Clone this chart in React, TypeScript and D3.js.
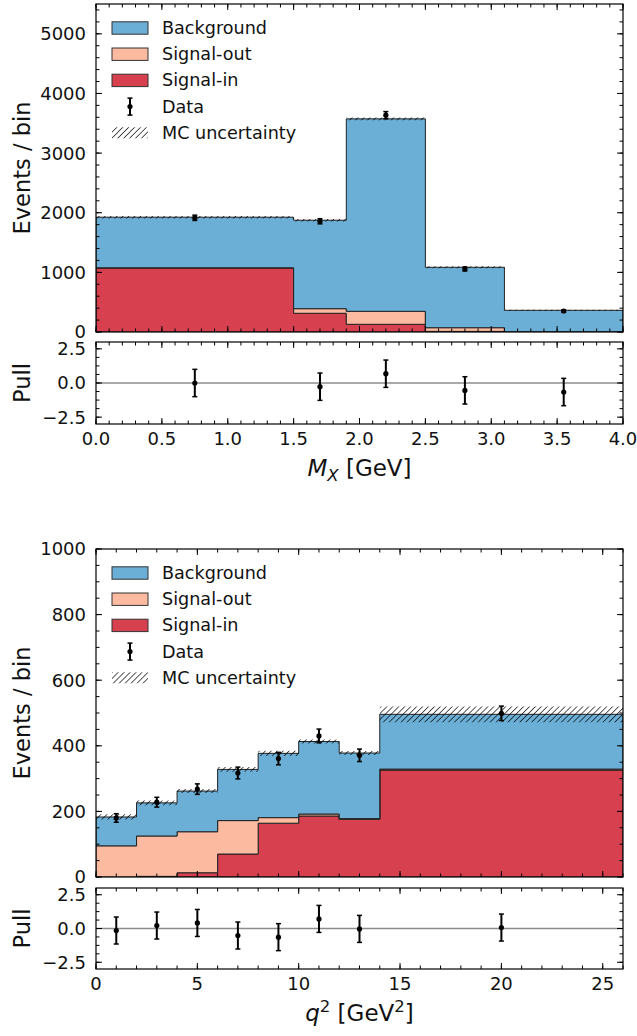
import React from 'react';
import * as d3 from 'd3';

const W = 637;
const H = 1036;
const FONT = '"DejaVu Sans", Verdana, sans-serif';

const COLOR_BKG = '#6baed6';
const COLOR_SIG_OUT = '#fcbba1';
const COLOR_SIG_IN = '#d6404f';

// ---- M_X distribution ----
const MX_EDGES = [0, 1.5, 1.9, 2.5, 3.1, 4.0];
const MX_SIGNAL_IN = [1074, 314, 129, 10, 1];
const MX_SIGNAL_OUT = [3, 77, 218, 62, 2];
const MX_BACKGROUND = [848, 1483, 3227, 1013, 361];
const MX_MC_UNC = [22, 20, 24, 16, 10];
const MX_DATA_X = [0.75, 1.7, 2.2, 2.8, 3.55];
const MX_DATA = [1915, 1857, 3636, 1057, 352];
const MX_DATA_ERR = [44, 43, 60, 33, 19];
const MX_PULL = [0.0, -0.27, 0.68, -0.54, -0.66];
const MX_PULL_ERR = [1, 1, 1, 1, 1];
const MX_Y_TICKS = [0, 1000, 2000, 3000, 4000, 5000];
const MX_X_TICKS = [0, 0.5, 1.0, 1.5, 2.0, 2.5, 3.0, 3.5, 4.0];

// ---- q^2 distribution ----
const Q2_EDGES = [0, 2, 4, 6, 8, 10, 12, 14, 26];
const Q2_SIGNAL_IN = [0, 2, 13, 70, 164, 186, 176, 326];
const Q2_SIGNAL_OUT = [95, 123, 125, 102, 17, 6, 2, 3];
const Q2_BACKGROUND = [88, 101, 124, 156, 196, 221, 200, 167];
const Q2_MC_UNC = [8, 7, 6, 7, 8, 6, 6, 24];
const Q2_DATA_X = [1, 3, 5, 7, 9, 11, 13, 20];
const Q2_DATA = [180, 228, 268, 317, 361, 430, 371, 499];
const Q2_DATA_ERR = [13, 15, 16, 18, 19, 21, 19, 22];
const Q2_PULL = [-0.15, 0.22, 0.41, -0.52, -0.64, 0.71, -0.03, 0.07];
const Q2_PULL_ERR = [1, 1, 1, 1, 1, 1, 1, 1];
const Q2_Y_TICKS = [0, 200, 400, 600, 800, 1000];
const Q2_X_TICKS = [0, 5, 10, 15, 20, 25];

const PULL_TICKS = [-2.5, 0, 2.5];

const LEGEND_ITEMS = ['Background', 'Signal-out', 'Signal-in', 'Data', 'MC uncertainty'];

const fmtMinus = (s: string) => s.replace('-', '\u2212');

type PanelCfg = {
  id: string;
  top: number;
  mainBottom: number;
  pullTop: number;
  pullBottom: number;
  xMax: number;
  yMax: number;
  edges: number[];
  sigIn: number[];
  sigOut: number[];
  bkg: number[];
  mcUnc: number[];
  dataX: number[];
  data: number[];
  dataErr: number[];
  pull: number[];
  pullErr: number[];
  yTicks: number[];
  yMinor: number;
  xTicks: number[];
  xMinor: number;
  xFmt: (v: number) => string;
  xLabel: React.ReactNode;
};

const LEFT = 96;
const RIGHT = 623;
const MAJOR = 6;
const MINOR = 3.5;
const TICK_FS = 18;
const LABEL_FS = 22.5;

function ticksFrame(
  x: d3.ScaleLinear<number, number>,
  y: d3.ScaleLinear<number, number>,
  xMajor: number[],
  xMinor: number[],
  yMajor: number[],
  yMinor: number[],
  key: string
) {
  const [y0, y1] = y.range();
  const bottom = Math.max(y0, y1);
  const top = Math.min(y0, y1);
  const els: React.ReactNode[] = [];
  const add = (v: number, len: number, axis: 'x' | 'y', k: string) => {
    if (axis === 'x') {
      const px = x(v);
      els.push(<line key={`${k}b`} x1={px} x2={px} y1={bottom} y2={bottom - len} stroke="#000" strokeWidth={1} />);
      els.push(<line key={`${k}t`} x1={px} x2={px} y1={top} y2={top + len} stroke="#000" strokeWidth={1} />);
    } else {
      const py = y(v);
      els.push(<line key={`${k}l`} x1={LEFT} x2={LEFT + len} y1={py} y2={py} stroke="#000" strokeWidth={1} />);
      els.push(<line key={`${k}r`} x1={RIGHT} x2={RIGHT - len} y1={py} y2={py} stroke="#000" strokeWidth={1} />);
    }
  };
  xMinor.forEach((v, i) => add(v, MINOR, 'x', `${key}xm${i}`));
  xMajor.forEach((v, i) => add(v, MAJOR, 'x', `${key}xM${i}`));
  yMinor.forEach((v, i) => add(v, MINOR, 'y', `${key}ym${i}`));
  yMajor.forEach((v, i) => add(v, MAJOR, 'y', `${key}yM${i}`));
  return els;
}

function ErrorBar({ cx, cy, y0, y1 }: { cx: number; cy: number; y0: number; y1: number }) {
  return (
    <g>
      <line x1={cx} x2={cx} y1={y0} y2={y1} stroke="#000" strokeWidth={2} />
      <line x1={cx - 2.5} x2={cx + 2.5} y1={y0} y2={y0} stroke="#000" strokeWidth={1.5} />
      <line x1={cx - 2.5} x2={cx + 2.5} y1={y1} y2={y1} stroke="#000" strokeWidth={1.5} />
      <circle cx={cx} cy={cy} r={2.6} fill="#000" />
    </g>
  );
}

function Panel({ c }: { c: PanelCfg }) {
  const x = d3.scaleLinear().domain([0, c.xMax]).range([LEFT, RIGHT]);
  const y = d3.scaleLinear().domain([0, c.yMax]).range([c.mainBottom, c.top]);
  const yp = d3.scaleLinear().domain([-3, 3]).range([c.pullBottom, c.pullTop]);

  const n = c.bkg.length;
  const layers = [c.sigIn, c.sigOut, c.bkg];
  const colors = [COLOR_SIG_IN, COLOR_SIG_OUT, COLOR_BKG];
  const cum: number[][] = [new Array(n).fill(0)];
  layers.forEach((l, li) => cum.push(l.map((v, i) => cum[li][i] + v)));
  const total = cum[3];

  // step points: each bin's left edge, plus the final right edge
  const stepIdx = d3.range(n + 1);
  const vAt = (arr: number[], i: number) => arr[Math.min(i, n - 1)];
  const area = (lo: number[], hi: number[]) =>
    d3
      .area<number>()
      .x((i) => x(c.edges[i]))
      .y0((i) => y(vAt(lo, i)))
      .y1((i) => y(vAt(hi, i)))
      .curve(d3.curveStepAfter)(stepIdx) as string;

  const uncLo = total.map((t, i) => t - c.mcUnc[i]);
  const uncHi = total.map((t, i) => t + c.mcUnc[i]);

  const xMinor = d3.range(0, c.xMax + 1e-9, c.xMinor);
  const yMinor = d3.range(0, c.yMax + 1e-9, c.yMinor);
  const pMinor = d3.range(-2.5, 2.5 + 1e-9, 0.625);

  const legendRowY = (i: number) => c.top + 24 + i * 26.2;

  return (
    <g>
      <defs>
        <clipPath id={`clip-${c.id}`}>
          <rect x={LEFT} y={c.top} width={RIGHT - LEFT} height={c.mainBottom - c.top} />
        </clipPath>
      </defs>
      {/* stacked histogram */}
      <g clipPath={`url(#clip-${c.id})`}>
        {layers.map((_, li) => (
          <path
            key={li}
            d={area(cum[li], cum[li + 1])}
            fill={colors[li]}
            stroke="#222"
            strokeWidth={1}
            strokeLinejoin="miter"
          />
        ))}
        <path d={area(uncLo, uncHi)} fill="url(#hatch)" stroke="none" />
      </g>
      {/* data */}
      {c.dataX.map((dx, i) => (
        <ErrorBar
          key={`d${i}`}
          cx={x(dx)}
          cy={y(c.data[i])}
          y0={y(c.data[i] - c.dataErr[i])}
          y1={y(c.data[i] + c.dataErr[i])}
        />
      ))}
      {/* legend */}
      {LEGEND_ITEMS.map((label, i) => {
        const ry = legendRowY(i);
        let marker: React.ReactNode = null;
        if (i < 3) {
          marker = (
            <rect x={112} y={ry - 6.2} width={36} height={12.4} fill={[COLOR_BKG, COLOR_SIG_OUT, COLOR_SIG_IN][i]} stroke="#333" strokeWidth={1} />
          );
        } else if (i === 3) {
          marker = <ErrorBar cx={130} cy={ry} y0={ry + 8.5} y1={ry - 8.5} />;
        } else {
          marker = <rect x={112} y={ry - 5.5} width={36} height={11} fill="url(#hatch)" />;
        }
        return (
          <g key={label}>
            {marker}
            <text x={162} y={ry} dominantBaseline="central" fontSize={17.6} fontFamily={FONT} fill="#111">
              {label}
            </text>
          </g>
        );
      })}
      {/* main frame and ticks */}
      {ticksFrame(x, y, c.xTicks, xMinor, c.yTicks, yMinor, `m${c.id}`)}
      <rect x={LEFT} y={c.top} width={RIGHT - LEFT} height={c.mainBottom - c.top} fill="none" stroke="#000" strokeWidth={1.2} />
      {c.yTicks.map((v) => (
        <text key={`yl${v}`} x={86} y={y(v)} dy="0.36em" textAnchor="end" fontSize={TICK_FS} fontFamily={FONT} fill="#111">
          {v}
        </text>
      ))}
      <text
        transform={`translate(30,${(c.top + c.mainBottom) / 2}) rotate(-90)`}
        textAnchor="middle"
        fontSize={LABEL_FS}
        fontFamily={FONT}
        fill="#111"
      >
        Events / bin
      </text>

      {/* pull panel */}
      <line x1={LEFT} x2={RIGHT} y1={yp(0)} y2={yp(0)} stroke="#8c8c8c" strokeWidth={1.5} />
      {c.dataX.map((dx, i) => (
        <ErrorBar
          key={`p${i}`}
          cx={x(dx)}
          cy={yp(c.pull[i])}
          y0={yp(c.pull[i] - c.pullErr[i])}
          y1={yp(c.pull[i] + c.pullErr[i])}
        />
      ))}
      {ticksFrame(x, yp, c.xTicks, xMinor, PULL_TICKS, pMinor, `p${c.id}`)}
      <rect x={LEFT} y={c.pullTop} width={RIGHT - LEFT} height={c.pullBottom - c.pullTop} fill="none" stroke="#000" strokeWidth={1.2} />
      {PULL_TICKS.map((v) => (
        <text key={`pl${v}`} x={86} y={yp(v)} dy="0.36em" textAnchor="end" fontSize={TICK_FS} fontFamily={FONT} fill="#111">
          {fmtMinus(v.toFixed(1))}
        </text>
      ))}
      <text
        transform={`translate(30,${(c.pullTop + c.pullBottom) / 2}) rotate(-90)`}
        textAnchor="middle"
        fontSize={LABEL_FS}
        fontFamily={FONT}
        fill="#111"
      >
        Pull
      </text>
      {c.xTicks.map((v) => (
        <text key={`xl${v}`} x={x(v)} y={c.pullBottom + 21} textAnchor="middle" fontSize={TICK_FS} fontFamily={FONT} fill="#111">
          {c.xFmt(v)}
        </text>
      ))}
      <text x={(LEFT + RIGHT) / 2} y={c.pullBottom + 52} textAnchor="middle" fontSize={23} fontFamily={FONT} fill="#111">
        {c.xLabel}
      </text>
    </g>
  );
}

export default function App() {
  const mx: PanelCfg = {
    id: 'mx',
    top: 4,
    mainBottom: 332,
    pullTop: 342,
    pullBottom: 424,
    xMax: 4,
    yMax: 5500,
    edges: MX_EDGES,
    sigIn: MX_SIGNAL_IN,
    sigOut: MX_SIGNAL_OUT,
    bkg: MX_BACKGROUND,
    mcUnc: MX_MC_UNC,
    dataX: MX_DATA_X,
    data: MX_DATA,
    dataErr: MX_DATA_ERR,
    pull: MX_PULL,
    pullErr: MX_PULL_ERR,
    yTicks: MX_Y_TICKS,
    yMinor: 200,
    xTicks: MX_X_TICKS,
    xMinor: 0.1,
    xFmt: (v) => v.toFixed(1),
    xLabel: (
      <>
        <tspan fontStyle="italic">M</tspan>
        <tspan fontStyle="italic" fontSize={16.5} dy={4.5}>X</tspan>
        <tspan dy={-4.5}> [GeV]</tspan>
      </>
    ),
  };
  const q2: PanelCfg = {
    id: 'q2',
    top: 549,
    mainBottom: 877,
    pullTop: 888,
    pullBottom: 969,
    xMax: 26,
    yMax: 1000,
    edges: Q2_EDGES,
    sigIn: Q2_SIGNAL_IN,
    sigOut: Q2_SIGNAL_OUT,
    bkg: Q2_BACKGROUND,
    mcUnc: Q2_MC_UNC,
    dataX: Q2_DATA_X,
    data: Q2_DATA,
    dataErr: Q2_DATA_ERR,
    pull: Q2_PULL,
    pullErr: Q2_PULL_ERR,
    yTicks: Q2_Y_TICKS,
    yMinor: 50,
    xTicks: Q2_X_TICKS,
    xMinor: 1,
    xFmt: (v) => String(v),
    xLabel: (
      <>
        <tspan fontStyle="italic">q</tspan>
        <tspan fontSize={16.5} dy={-9}>2</tspan>
        <tspan dy={9}> [GeV</tspan>
        <tspan fontSize={16.5} dy={-9}>2</tspan>
        <tspan dy={9}>]</tspan>
      </>
    ),
  };
  return (
    <svg width={W} height={H} style={{ position: 'absolute', left: 0, top: 0, background: '#fff' }}>
      <defs>
        <pattern id="hatch" width={4.2} height={4.2} patternUnits="userSpaceOnUse" patternTransform="rotate(45)">
          <line x1={0} y1={0} x2={0} y2={4.2} stroke="#000" strokeWidth={1.3} />
        </pattern>
      </defs>
      <rect x={0} y={0} width={W} height={H} fill="#fff" />
      <Panel c={mx} />
      <Panel c={q2} />
    </svg>
  );
}
